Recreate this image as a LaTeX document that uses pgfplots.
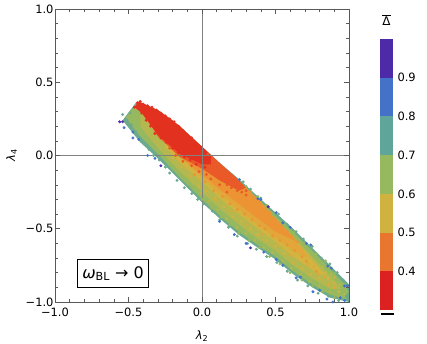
\documentclass[border=0pt]{standalone}
\usepackage{fontspec}
\setmainfont{DejaVu Sans}
\usepackage{pgfplots}
\pgfplotsset{compat=1.18}
\definecolor{cRed}{HTML}{DB2221}
\definecolor{cOrange}{HTML}{E8762F}
\definecolor{cYellow}{HTML}{CFB23F}
\definecolor{cGreen}{HTML}{96B85F}
\definecolor{cTeal}{HTML}{5FA59A}
\definecolor{cBlue}{HTML}{4472C8}
\definecolor{cPurple}{HTML}{4D2BA8}
% blends seen in the cloud itself
\definecolor{pRed}{HTML}{E2311F}
\definecolor{pRedOr}{HTML}{EA5A28}
\definecolor{pOrange}{HTML}{EC9433}
\definecolor{pAmber}{HTML}{E2A63A}
\definecolor{pYellow}{HTML}{D3B440}
\definecolor{pOlive}{HTML}{B5B84E}
\definecolor{pGreen}{HTML}{96B85F}
\definecolor{pTeal}{HTML}{6BAA8E}
\pgfplotsset{dots/.style={only marks, mark=*, mark size=1.25bp, color=#1, mark options={draw=none, fill=#1}}}
\begin{document}
\begin{tikzpicture}
\path[use as bounding box] (0,0) rectangle (427bp,344bp);
\begin{axis}[
  at={(55bp,42bp)}, anchor=south west, scale only axis,
  width=294bp, height=293bp,
  xmin=-1, xmax=1, ymin=-1, ymax=1,
  xtick={-1,-0.5,0,0.5,1}, ytick={-1,-0.5,0,0.5,1},
  xticklabels={−1.0,−0.5,0.0,0.5,1.0}, yticklabels={−1.0,−0.5,0.0,0.5,1.0},
  minor tick num=4,
  tick align=inside, axis on top,
  axis line style={color=black!65, line width=0.8bp},
  major tick style={color=black!65, line width=0.6bp},
  minor tick style={color=black!65, line width=0.5bp},
  major tick length=5bp, minor tick length=3bp,
  tick label style={font=\fontsize{11.5}{12}\selectfont},
  xticklabel style={yshift=-2bp}, yticklabel style={xshift=2bp},
  xlabel={\textit{λ}\textsubscript{2}}, ylabel={\textit{λ}\textsubscript{4}},
  xlabel style={font=\fontsize{11.5}{13}\selectfont, yshift=-8bp},
  ylabel style={font=\fontsize{11.5}{13}\selectfont, yshift=2bp},
]
% nested bands of the cloud, outermost first
\addplot[fill=pTeal, draw=none] coordinates {(-0.45,0.36)(-0.3,0.31)(-0.15,0.20)(0,0.06)(0.12,-0.05)(0.25,-0.16)(0.38,-0.28)(0.5,-0.39)(0.62,-0.50)(0.75,-0.63)(0.87,-0.75)(1,-0.88)(1,-1)(0.87,-0.97)(0.75,-0.90)(0.62,-0.81)(0.5,-0.71)(0.38,-0.63)(0.25,-0.54)(0.12,-0.43)(0,-0.32)(-0.15,-0.17)(-0.3,-0.02)(-0.42,0.09)(-0.54,0.24)};
\addplot[fill=pGreen, draw=none] coordinates {(-0.45,0.35)(-0.3,0.30)(-0.15,0.19)(0,0.05)(0.12,-0.06)(0.25,-0.175)(0.38,-0.295)(0.5,-0.41)(0.62,-0.52)(0.75,-0.65)(0.87,-0.77)(0.99,-0.90)(0.98,-0.98)(0.87,-0.95)(0.75,-0.88)(0.62,-0.79)(0.5,-0.69)(0.38,-0.61)(0.25,-0.52)(0.12,-0.41)(0,-0.30)(-0.15,-0.15)(-0.3,0.01)(-0.42,0.13)(-0.52,0.26)};
\addplot[fill=pOlive, draw=none] coordinates {(-0.42,0.35)(-0.3,0.30)(-0.15,0.19)(0,0.05)(0.12,-0.06)(0.25,-0.18)(0.38,-0.30)(0.5,-0.43)(0.62,-0.55)(0.75,-0.69)(0.87,-0.82)(0.95,-0.91)(0.87,-0.91)(0.75,-0.84)(0.62,-0.75)(0.5,-0.65)(0.38,-0.57)(0.25,-0.47)(0.12,-0.36)(0,-0.25)(-0.15,-0.11)(-0.3,0.05)(-0.42,0.20)};
\addplot[fill=pYellow, draw=none] coordinates {(-0.25,0.20)(-0.15,0.19)(0,0.05)(0.12,-0.06)(0.25,-0.18)(0.38,-0.30)(0.5,-0.43)(0.62,-0.56)(0.75,-0.71)(0.85,-0.83)(0.75,-0.78)(0.62,-0.69)(0.5,-0.59)(0.38,-0.50)(0.25,-0.40)(0.12,-0.29)(0,-0.18)(-0.15,-0.05)(-0.25,0.06)};
\addplot[fill=pAmber, draw=none] coordinates {(-0.25,0.20)(-0.15,0.19)(0,0.05)(0.12,-0.06)(0.25,-0.18)(0.38,-0.30)(0.5,-0.43)(0.62,-0.56)(0.74,-0.71)(0.62,-0.65)(0.5,-0.56)(0.38,-0.47)(0.25,-0.37)(0.12,-0.26)(0,-0.15)(-0.2,0.04)};
\addplot[fill=pOrange, draw=none] coordinates {(-0.25,0.20)(-0.15,0.19)(0,0.05)(0.12,-0.06)(0.25,-0.17)(0.38,-0.30)(0.5,-0.43)(0.65,-0.59)(0.5,-0.52)(0.38,-0.43)(0.25,-0.33)(0.12,-0.23)(0,-0.13)(-0.2,0.03)};
\addplot[fill=pRedOr, draw=none] coordinates {(-0.44,0.36)(-0.3,0.31)(-0.15,0.20)(0,0.06)(0.12,-0.05)(0.22,-0.14)(0.3,-0.22)(0.25,-0.24)(0.12,-0.17)(0,-0.09)(-0.15,-0.01)(-0.3,0.13)};
\addplot[fill=pRed, draw=none] coordinates {(-0.46,0.33)(-0.43,0.37)(-0.3,0.31)(-0.2,0.24)(-0.1,0.15)(0,0.06)(0.06,0.00)(0.06,-0.06)(0,-0.06)(-0.15,0.01)(-0.3,0.14)(-0.41,0.29)};
% speckle over the band boundaries
\addplot[dots=pRed] coordinates {(-0.46,0.33)(-0.44,0.36)(-0.42,0.37)(-0.40,0.35)(-0.37,0.34)(-0.34,0.33)(-0.31,0.31)(-0.28,0.29)(-0.25,0.27)(-0.22,0.25)(-0.19,0.23)(-0.16,0.20)(-0.13,0.17)(-0.10,0.14)(-0.07,0.12)(-0.04,0.08)(-0.01,0.06)(0.02,0.03)(-0.41,0.29)(-0.38,0.24)(-0.35,0.20)(-0.32,0.15)(-0.28,0.12)(-0.24,0.09)(-0.20,0.05)(-0.16,0.02)(-0.12,-0.01)(-0.08,-0.03)(-0.04,-0.06)(0.02,-0.08)(0.05,-0.04)};
\addplot[dots=pRedOr] coordinates {(0.04,0.01)(0.07,-0.02)(0.10,-0.05)(0.13,-0.08)(0.16,-0.11)(0.19,-0.13)(0.22,-0.16)(0.08,-0.10)(0.11,-0.13)(0.14,-0.17)(0.17,-0.20)(0.20,-0.22)(0.24,-0.24)(0.27,-0.25)(-0.22,0.05)(-0.18,0.00)(-0.13,-0.04)(-0.07,-0.07)(-0.02,-0.11)(0.03,-0.13)(0.06,-0.16)(0.12,-0.20)(0.17,-0.25)(0.30,-0.27)(0.26,-0.20)(0.30,-0.24)};
\addplot[dots=pOrange] coordinates {(0.33,-0.25)(0.36,-0.29)(0.40,-0.32)(0.43,-0.35)(0.47,-0.39)(0.50,-0.44)(0.54,-0.48)(0.58,-0.52)(0.61,-0.55)(0.65,-0.59)(-0.05,-0.13)(0.02,-0.18)(0.08,-0.24)(0.14,-0.28)(0.19,-0.33)(0.24,-0.37)(0.29,-0.40)(0.34,-0.44)(0.39,-0.48)(0.43,-0.50)(0.48,-0.55)(0.53,-0.58)(0.58,-0.61)(0.63,-0.65)(0.68,-0.69)(0.71,-0.72)(0.78,-0.79)};
\addplot[dots=pAmber] coordinates {(0.10,-0.30)(0.20,-0.38)(0.31,-0.47)(0.41,-0.54)(0.51,-0.61)(0.60,-0.68)(0.66,-0.63)(0.72,-0.74)(0.79,-0.81)(0.83,-0.83)(0.76,-0.76)(0.86,-0.88)(0.90,-0.90)};
\addplot[dots=pYellow] coordinates {(-0.20,-0.02)(-0.14,-0.08)(-0.08,-0.14)(-0.02,-0.21)(0.03,-0.24)(0.09,-0.29)(0.15,-0.35)(0.21,-0.42)(0.27,-0.45)(0.33,-0.50)(0.38,-0.54)(0.44,-0.58)(0.50,-0.62)(0.56,-0.67)(0.62,-0.73)(0.68,-0.77)(0.74,-0.81)(0.80,-0.84)(0.86,-0.84)(0.90,-0.87)(0.93,-0.93)(0.72,-0.70)(0.84,-0.80)(0.90,-0.83)};
\addplot[dots=pOlive] coordinates {(-0.39,0.21)(-0.36,0.16)(-0.33,0.12)(-0.29,0.08)(-0.25,0.03)(-0.21,-0.03)(-0.16,-0.09)(-0.11,-0.14)(-0.06,-0.19)(-0.01,-0.26)(0.05,-0.31)(0.11,-0.37)(0.17,-0.43)(0.24,-0.49)(0.30,-0.53)(0.36,-0.58)(0.42,-0.63)(0.48,-0.66)(0.55,-0.72)(0.61,-0.77)(0.67,-0.81)(0.73,-0.86)(0.80,-0.89)(0.87,-0.93)(0.93,-0.96)(0.97,-0.95)(0.82,-0.76)(0.88,-0.81)(0.94,-0.88)};
\addplot[dots=pGreen] coordinates {(-0.50,0.27)(-0.47,0.30)(-0.45,0.25)(-0.43,0.22)(-0.41,0.17)(-0.38,0.13)(-0.35,0.09)(-0.32,0.05)(-0.27,0.01)(-0.24,-0.04)(-0.20,-0.09)(-0.15,-0.14)(-0.10,-0.19)(-0.05,-0.24)(0.00,-0.30)(0.06,-0.36)(0.13,-0.42)(0.19,-0.47)(0.25,-0.53)(0.32,-0.58)(0.39,-0.63)(0.46,-0.69)(0.53,-0.74)(0.60,-0.80)(0.68,-0.85)(0.75,-0.89)(0.82,-0.93)(0.90,-0.97)(0.48,-0.40)(0.56,-0.47)(0.63,-0.52)(0.70,-0.60)(0.78,-0.67)(0.84,-0.72)(0.91,-0.80)(0.97,-0.88)(0.99,-0.93)(0.30,-0.21)(0.38,-0.28)(0.44,-0.34)};
\addplot[dots=pTeal] coordinates {(-0.54,0.28)(-0.51,0.24)(-0.48,0.21)(-0.45,0.16)(-0.42,0.12)(-0.39,0.08)(-0.36,0.04)(-0.33,0.00)(-0.29,-0.03)(-0.25,-0.08)(-0.22,-0.12)(-0.17,-0.17)(-0.12,-0.22)(-0.07,-0.26)(-0.03,-0.30)(0.01,-0.33)(0.07,-0.38)(0.12,-0.44)(0.18,-0.49)(0.24,-0.55)(0.31,-0.60)(0.37,-0.64)(0.44,-0.69)(0.51,-0.73)(0.58,-0.79)(0.65,-0.85)(0.72,-0.89)(0.79,-0.94)(0.86,-0.96)(0.93,-0.99)(0.28,-0.18)(0.33,-0.23)(0.40,-0.29)(0.45,-0.35)(0.52,-0.40)(0.58,-0.47)(0.64,-0.52)(0.69,-0.57)(0.75,-0.62)(0.81,-0.70)(0.87,-0.74)(0.92,-0.80)(0.96,-0.85)(0.98,-0.96)(-0.52,0.25)(-0.49,0.29)};
\addplot[dots=cBlue] coordinates {(-0.53,0.19)(-0.47,0.16)(-0.43,0.11)(-0.37,0.00)(-0.32,-0.02)(-0.47,0.12)(0.255,-0.165)(0.38,-0.295)(0.40,-0.30)(0.505,-0.39)(0.55,-0.46)(0.60,-0.49)(0.71,-0.60)(0.74,-0.61)(0.855,-0.755)(0.88,-0.77)(0.97,-0.89)(0.99,-0.89)(0.505,-0.71)(0.55,-0.75)(0.64,-0.835)(0.67,-0.83)(0.755,-0.93)(0.80,-0.92)(0.85,-0.98)(0.89,-1.0)(0.94,-0.97)(0.97,-0.99)(0.12,-0.45)(0.22,-0.54)(0.30,-0.60)(0.42,-0.66)};
\addplot[dots=cPurple] coordinates {(-0.56,0.23)(-0.54,0.23)(-0.28,-0.07)(0.45,-0.35)(0.33,-0.63)};
% axis cross
\addplot[black!50, line width=1bp] coordinates {(0,-1)(0,1)};
\addplot[black!50, line width=1bp] coordinates {(-1,0)(1,0)};
\node[draw=black, fill=white, line width=0.8bp, minimum width=71bp, minimum height=28bp, inner sep=0pt, font=\fontsize{16}{18}\selectfont] at (axis cs:-0.605,-0.805) {\textit{ω}\textsubscript{BL} → 0};
\end{axis}
\begin{axis}[
  at={(380bp,34bp)}, anchor=south west, scale only axis,
  width=13bp, height=271bp,
  xmin=0, xmax=1, ymin=0.3, ymax=1.0,
  xtick=\empty, ytick={0.4,0.5,0.6,0.7,0.8,0.9},
  yticklabel pos=right, ytick pos=right,
  axis line style={draw=none}, clip=false,
  y tick label style={/pgf/number format/assume math mode=true, /pgf/number format/fixed, /pgf/number format/precision=1, /pgf/number format/fixed zerofill, font=\fontsize{11.5}{12}\selectfont},
  yticklabel style={xshift=1bp},
  major tick style={color=black!25, line width=0.5bp},
  major tick length=2bp,
]
\addplot[fill=cRed, draw=none] coordinates {(0,0.3)(1,0.3)(1,0.4)(0,0.4)};
\addplot[fill=cOrange, draw=none] coordinates {(0,0.4)(1,0.4)(1,0.5)(0,0.5)};
\addplot[fill=cYellow, draw=none] coordinates {(0,0.5)(1,0.5)(1,0.6)(0,0.6)};
\addplot[fill=cGreen, draw=none] coordinates {(0,0.6)(1,0.6)(1,0.7)(0,0.7)};
\addplot[fill=cTeal, draw=none] coordinates {(0,0.7)(1,0.7)(1,0.8)(0,0.8)};
\addplot[fill=cBlue, draw=none] coordinates {(0,0.8)(1,0.8)(1,0.9)(0,0.9)};
\addplot[fill=cPurple, draw=none] coordinates {(0,0.9)(1,0.9)(1,1)(0,1)};
\addplot[black, line width=1.4bp] coordinates {(0.05,0.29)(1.05,0.29)};
\node[font=\fontsize{12}{13}\selectfont] at (axis cs:0.5,1.05) {$\overline{\hbox{Δ}}$};
\end{axis}
\end{tikzpicture}
\end{document}
